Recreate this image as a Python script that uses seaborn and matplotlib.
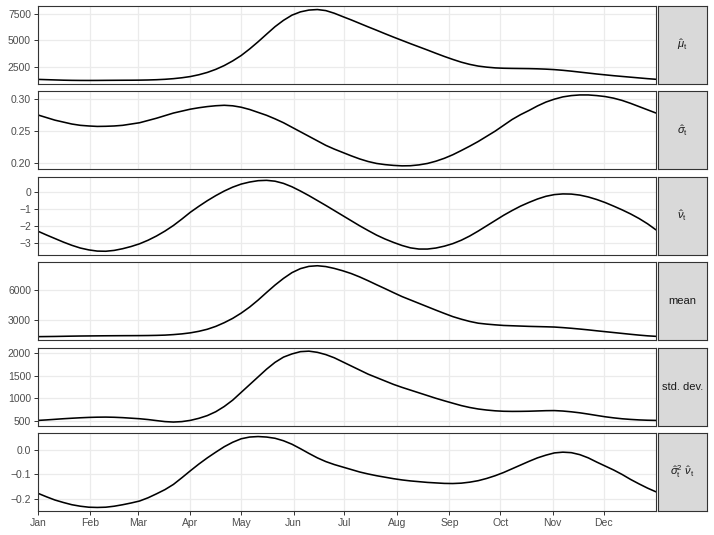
import numpy as np
import pandas as pd
import matplotlib
matplotlib.use("Agg")
import matplotlib.pyplot as plt
import seaborn as sns

# ---- data (x = day of year) ----
days = [0, 5, 10, 15, 20, 25, 30, 35, 40, 45, 50, 55, 60, 65, 70, 75, 80, 85, 90, 95,
        100, 105, 110, 115, 120, 125, 130, 135, 140, 145, 150, 155, 160, 165, 170, 175,
        180, 185, 190, 195, 200, 205, 210, 215, 220, 225, 230, 235, 240, 245, 250, 255,
        260, 265, 270, 275, 280, 285, 290, 295, 300, 305, 310, 315, 320, 325, 330, 335,
        340, 345, 350, 355, 360, 365]

mu_hat = [1290, 1265, 1240, 1215, 1200, 1192, 1190, 1193, 1200, 1205, 1210, 1213, 1220,
          1235, 1260, 1300, 1360, 1445, 1560, 1730, 1950, 2240, 2600, 3040, 3550, 4170,
          4850, 5570, 6280, 6880, 7370, 7680, 7850, 7900, 7800, 7550, 7230, 6920, 6590,
          6260, 5940, 5610, 5290, 4980, 4670, 4370, 4070, 3760, 3460, 3180, 2920, 2710,
          2550, 2450, 2380, 2345, 2330, 2320, 2310, 2290, 2260, 2215, 2150, 2070, 1980,
          1890, 1800, 1720, 1640, 1570, 1500, 1430, 1360, 1300]

sigma_hat = [0.275, 0.271, 0.267, 0.264, 0.261, 0.259, 0.258, 0.2573, 0.2575, 0.258, 0.259,
             0.261, 0.263, 0.2665, 0.270, 0.274, 0.278, 0.281, 0.284, 0.2862, 0.288, 0.2893,
             0.290, 0.2892, 0.287, 0.2835, 0.279, 0.2745, 0.269, 0.263, 0.256, 0.249, 0.242,
             0.235, 0.228, 0.2222, 0.217, 0.2118, 0.207, 0.203, 0.200, 0.1982, 0.197,
             0.1963, 0.1965, 0.1978, 0.200, 0.2035, 0.208, 0.2135, 0.220, 0.2268, 0.234,
             0.242, 0.250, 0.259, 0.268, 0.2755, 0.282, 0.289, 0.295, 0.2995, 0.303, 0.305,
             0.306, 0.306, 0.305, 0.3035, 0.301, 0.2975, 0.293, 0.288, 0.283, 0.278]

nu_hat = [-2.32, -2.54, -2.75, -2.96, -3.15, -3.31, -3.42, -3.49, -3.50, -3.45, -3.35, -3.22,
          -3.06, -2.85, -2.60, -2.31, -1.98, -1.60, -1.20, -0.85, -0.52, -0.22, 0.05, 0.28,
          0.46, 0.58, 0.66, 0.68, 0.63, 0.50, 0.30, 0.05, -0.22, -0.51, -0.80, -1.10,
          -1.40, -1.70, -2.00, -2.28, -2.55, -2.78, -2.98, -3.16, -3.30, -3.37, -3.37,
          -3.31, -3.20, -3.05, -2.85, -2.60, -2.31, -2.00, -1.69, -1.38, -1.10, -0.84,
          -0.62, -0.42, -0.26, -0.16, -0.12, -0.13, -0.19, -0.30, -0.45, -0.63, -0.84,
          -1.06, -1.30, -1.57, -1.88, -2.24]

mean_vals = [1420, 1430, 1440, 1455, 1470, 1482, 1490, 1498, 1505, 1510, 1515, 1518, 1522,
             1530, 1545, 1570, 1620, 1690, 1790, 1940, 2140, 2420, 2780, 3200, 3710, 4300,
             4980, 5720, 6440, 7090, 7650, 8040, 8260, 8320, 8240, 8060, 7830, 7560, 7230,
             6860, 6470, 6090, 5700, 5320, 4990, 4660, 4330, 4000, 3680, 3370, 3120, 2900,
             2730, 2640, 2570, 2510, 2480, 2450, 2420, 2400, 2380, 2355, 2300, 2235, 2160,
             2080, 1990, 1905, 1820, 1735, 1650, 1570, 1500, 1450]

sd_vals = [514, 525, 538, 551, 562, 572, 580, 585, 587, 583, 575, 563, 551, 533, 510, 488,
           478, 488, 515, 560, 620, 705, 820, 960, 1130, 1300, 1470, 1640, 1790, 1905, 1975,
           2025, 2036, 2010, 1960, 1890, 1800, 1710, 1620, 1530, 1455, 1380, 1305, 1240,
           1180, 1120, 1060, 1000, 945, 892, 840, 798, 765, 742, 725, 715, 712, 713, 716,
           722, 728, 730, 720, 703, 681, 653, 623, 594, 570, 550, 536, 525, 518, 514]

skew_vals = [-0.176, -0.190, -0.203, -0.213, -0.222, -0.228, -0.232, -0.233, -0.232, -0.228,
             -0.222, -0.215, -0.207, -0.194, -0.178, -0.161, -0.140, -0.113, -0.085, -0.058,
             -0.033, -0.010, 0.012, 0.030, 0.044, 0.051, 0.053, 0.051, 0.046, 0.036, 0.022,
             0.004, -0.015, -0.033, -0.048, -0.060, -0.070, -0.080, -0.090, -0.098, -0.105,
             -0.111, -0.117, -0.122, -0.126, -0.129, -0.132, -0.134, -0.136, -0.1365,
             -0.135, -0.131, -0.125, -0.116, -0.105, -0.092, -0.077, -0.062, -0.047,
             -0.033, -0.022, -0.013, -0.010, -0.012, -0.020, -0.033, -0.050, -0.066,
             -0.082, -0.100, -0.120, -0.138, -0.155, -0.170]

panel_labels = [r"$\hat{\mu}_{\mathrm{t}}$", r"$\hat{\sigma}_{\mathrm{t}}$",
                r"$\hat{\nu}_{\mathrm{t}}$", "mean", "std. dev.",
                r"$\hat{\sigma}_{\mathrm{t}}^{2}\ \hat{\nu}_{\mathrm{t}}$"]
panel_yticks = [[2500, 5000, 7500], [0.20, 0.25, 0.30], [-3, -2, -1, 0],
                [3000, 6000], [500, 1000, 1500, 2000], [-0.2, -0.1, 0.0]]
panel_yticklabels = [["2500", "5000", "7500"], ["0.20", "0.25", "0.30"],
                     ["\u22123", "\u22122", "\u22121", "0"], ["3000", "6000"],
                     ["500", "1000", "1500", "2000"], ["\u22120.2", "\u22120.1", "0.0"]]
month_starts = [0, 31, 59, 90, 120, 151, 181, 212, 243, 273, 304, 334]
month_labels = ["Jan", "Feb", "Mar", "Apr", "May", "Jun", "Jul", "Aug", "Sep", "Oct",
                "Nov", "Dec"]

series = [mu_hat, sigma_hat, nu_hat, mean_vals, sd_vals, skew_vals]
df = pd.concat([pd.DataFrame({"day": days, "value": s, "panel": i})
                for i, s in enumerate(series)], ignore_index=True)

# ---- style ----
sns.set_theme(style="white")
plt.rcParams["font.family"] = ["Liberation Sans", "DejaVu Sans"]
plt.rcParams["mathtext.fontset"] = "custom"
plt.rcParams["mathtext.rm"] = "Liberation Sans"
plt.rcParams["mathtext.it"] = "Liberation Sans:italic"
plt.rcParams["mathtext.bf"] = "Liberation Sans:bold"

W, H = 714, 535
fig = plt.figure(figsize=(W / 100, H / 100), dpi=100)
fig.patch.set_facecolor("white")

left_px, right_px = 38, 656
strip_l, strip_r = 657.5, 707
top0, ph, step = 6, 78, 85.4
border = "#333333"

for i in range(6):
    top = top0 + i * step
    ax = fig.add_axes([left_px / W, 1 - (top + ph) / H, (right_px - left_px) / W, ph / H])
    sub = df[df["panel"] == i]
    sns.lineplot(data=sub, x="day", y="value", ax=ax, color="black", linewidth=1.15,
                 estimator=None, sort=True)
    ax.set_xlim(0, 365)
    vals = np.array(series[i])
    rng = vals.max() - vals.min()
    ax.set_ylim(vals.min() - 0.05 * rng, vals.max() + 0.05 * rng)
    ax.set_xticks(month_starts)
    ax.set_yticks(panel_yticks[i])
    ax.set_yticklabels(panel_yticklabels[i])
    ax.grid(True, color="#EBEBEB", linewidth=0.9)
    ax.set_axisbelow(True)
    ax.set_xlabel("")
    ax.set_ylabel("")
    for sp in ax.spines.values():
        sp.set_visible(True)
        sp.set_color(border)
        sp.set_linewidth(0.8)
    ax.tick_params(axis="y", length=3, width=0.7, color=border, labelsize=7.5,
                   labelcolor="#4D4D4D", pad=2, left=True)
    if i == 5:
        ax.set_xticklabels(month_labels)
        ax.tick_params(axis="x", length=3, width=0.7, color=border, labelsize=7.5,
                       labelcolor="#4D4D4D", pad=2, bottom=True)
    else:
        ax.tick_params(axis="x", bottom=False, labelbottom=False)

    # strip on the right
    sax = fig.add_axes([strip_l / W, 1 - (top + ph) / H, (strip_r - strip_l) / W, ph / H])
    sax.set_facecolor("#D9D9D9")
    sax.set_xticks([])
    sax.set_yticks([])
    for sp in sax.spines.values():
        sp.set_visible(True)
        sp.set_color(border)
        sp.set_linewidth(0.8)
    sax.text(0.5, 0.5, panel_labels[i], ha="center", va="center", fontsize=8,
             color="#1A1A1A", transform=sax.transAxes)

fig.savefig("out.png", dpi=100, facecolor="white")
